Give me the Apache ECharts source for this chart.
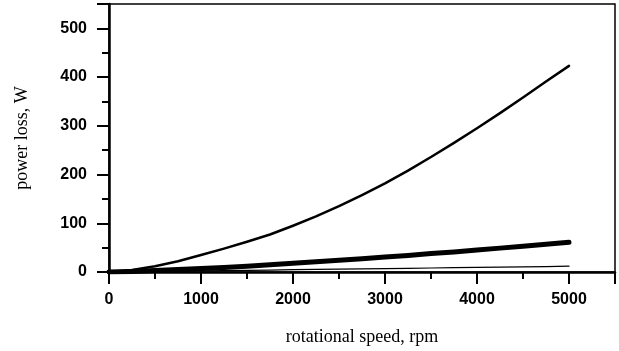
<!DOCTYPE html>
<html>
<head>
<meta charset="utf-8">
<script src="https://cdn.jsdelivr.net/npm/echarts@6/dist/echarts.min.js"></script>
<style>
  html, body { margin: 0; padding: 0; background: #fff; }
  #main { width: 619px; height: 351px; }
</style>
</head>
<body>
<div id="main"></div>
<script>
// rotational speed, rpm
const speeds = [0, 250, 500, 750, 1000, 1250, 1500, 1750, 2000, 2250, 2500,
  2750, 3000, 3250, 3500, 3750, 4000, 4250, 4500, 4750, 5000]
// power loss, W
const upperLoss = [0, 4, 12, 22, 35, 48, 62, 77, 95, 114, 135,
  158, 182, 208, 236, 265, 295, 326, 358, 391, 423]
const thickLoss = [0, 1, 3, 5, 7, 9, 12, 15, 18, 21, 24,
  27, 31, 34, 38, 41, 45, 49, 53, 57, 61]
const thinLoss = [0, 0.5, 1, 1.7, 2.3, 3, 3.5, 4, 4.7, 5.3, 6,
  6.5, 7, 7.6, 8.2, 8.8, 9.4, 10, 10.6, 11.2, 12]

const pairs = (ys) => speeds.map((x, i) => [x, ys[i]])

const chart = echarts.init(document.getElementById('main'))

const line = (data, width) => ({
  type: 'line',
  data: pairs(data),
  showSymbol: false,
  smooth: false,
  lineStyle: { color: '#000', width: width, cap: 'round', join: 'round' },
  animation: false,
})

const tickLabel = {
  showMaxLabel: false,
  fontFamily: 'Liberation Sans', fontWeight: 'bold', fontSize: 16, color: '#000',
  formatter: (v) => String(v),
}

chart.setOption({
  backgroundColor: '#fff',
  grid: {
    left: 109, right: 4, top: 4, bottom: 78,
    show: true, borderColor: '#000', borderWidth: 1.5,
  },
  xAxis: {
    type: 'value',
    min: 0, max: 5500, interval: 1000,
    name: 'rotational speed, rpm',
    nameLocation: 'middle',
    nameGap: 56,
    nameTextStyle: { fontFamily: 'Liberation Serif', fontSize: 18, color: '#000' },
    axisLine: { show: true, onZero: false, lineStyle: { color: '#000', width: 2.5 } },
    axisTick: { show: true, inside: false, length: 12, lineStyle: { color: '#000', width: 2 } },
    minorTick: { show: true, splitNumber: 2, length: 7, lineStyle: { color: '#000', width: 2 } },
    axisLabel: { ...tickLabel, margin: 20 },
    splitLine: { show: false },
  },
  yAxis: {
    type: 'value',
    min: 0, max: 550, interval: 100,
    name: 'power loss, W',
    nameLocation: 'middle',
    nameGap: 78,
    nameTextStyle: { fontFamily: 'Liberation Serif', fontSize: 18, color: '#000' },
    axisLine: { show: true, lineStyle: { color: '#000', width: 2.5 } },
    axisTick: { show: true, inside: false, length: 12, lineStyle: { color: '#000', width: 2 } },
    minorTick: { show: true, splitNumber: 2, length: 7, lineStyle: { color: '#000', width: 2 } },
    axisLabel: { ...tickLabel, margin: 22 },
    splitLine: { show: false },
  },
  series: [
    line(upperLoss, 2.5),
    line(thickLoss, 5),
    line(thinLoss, 1.2),
  ],
})
</script>
</body>
</html>
